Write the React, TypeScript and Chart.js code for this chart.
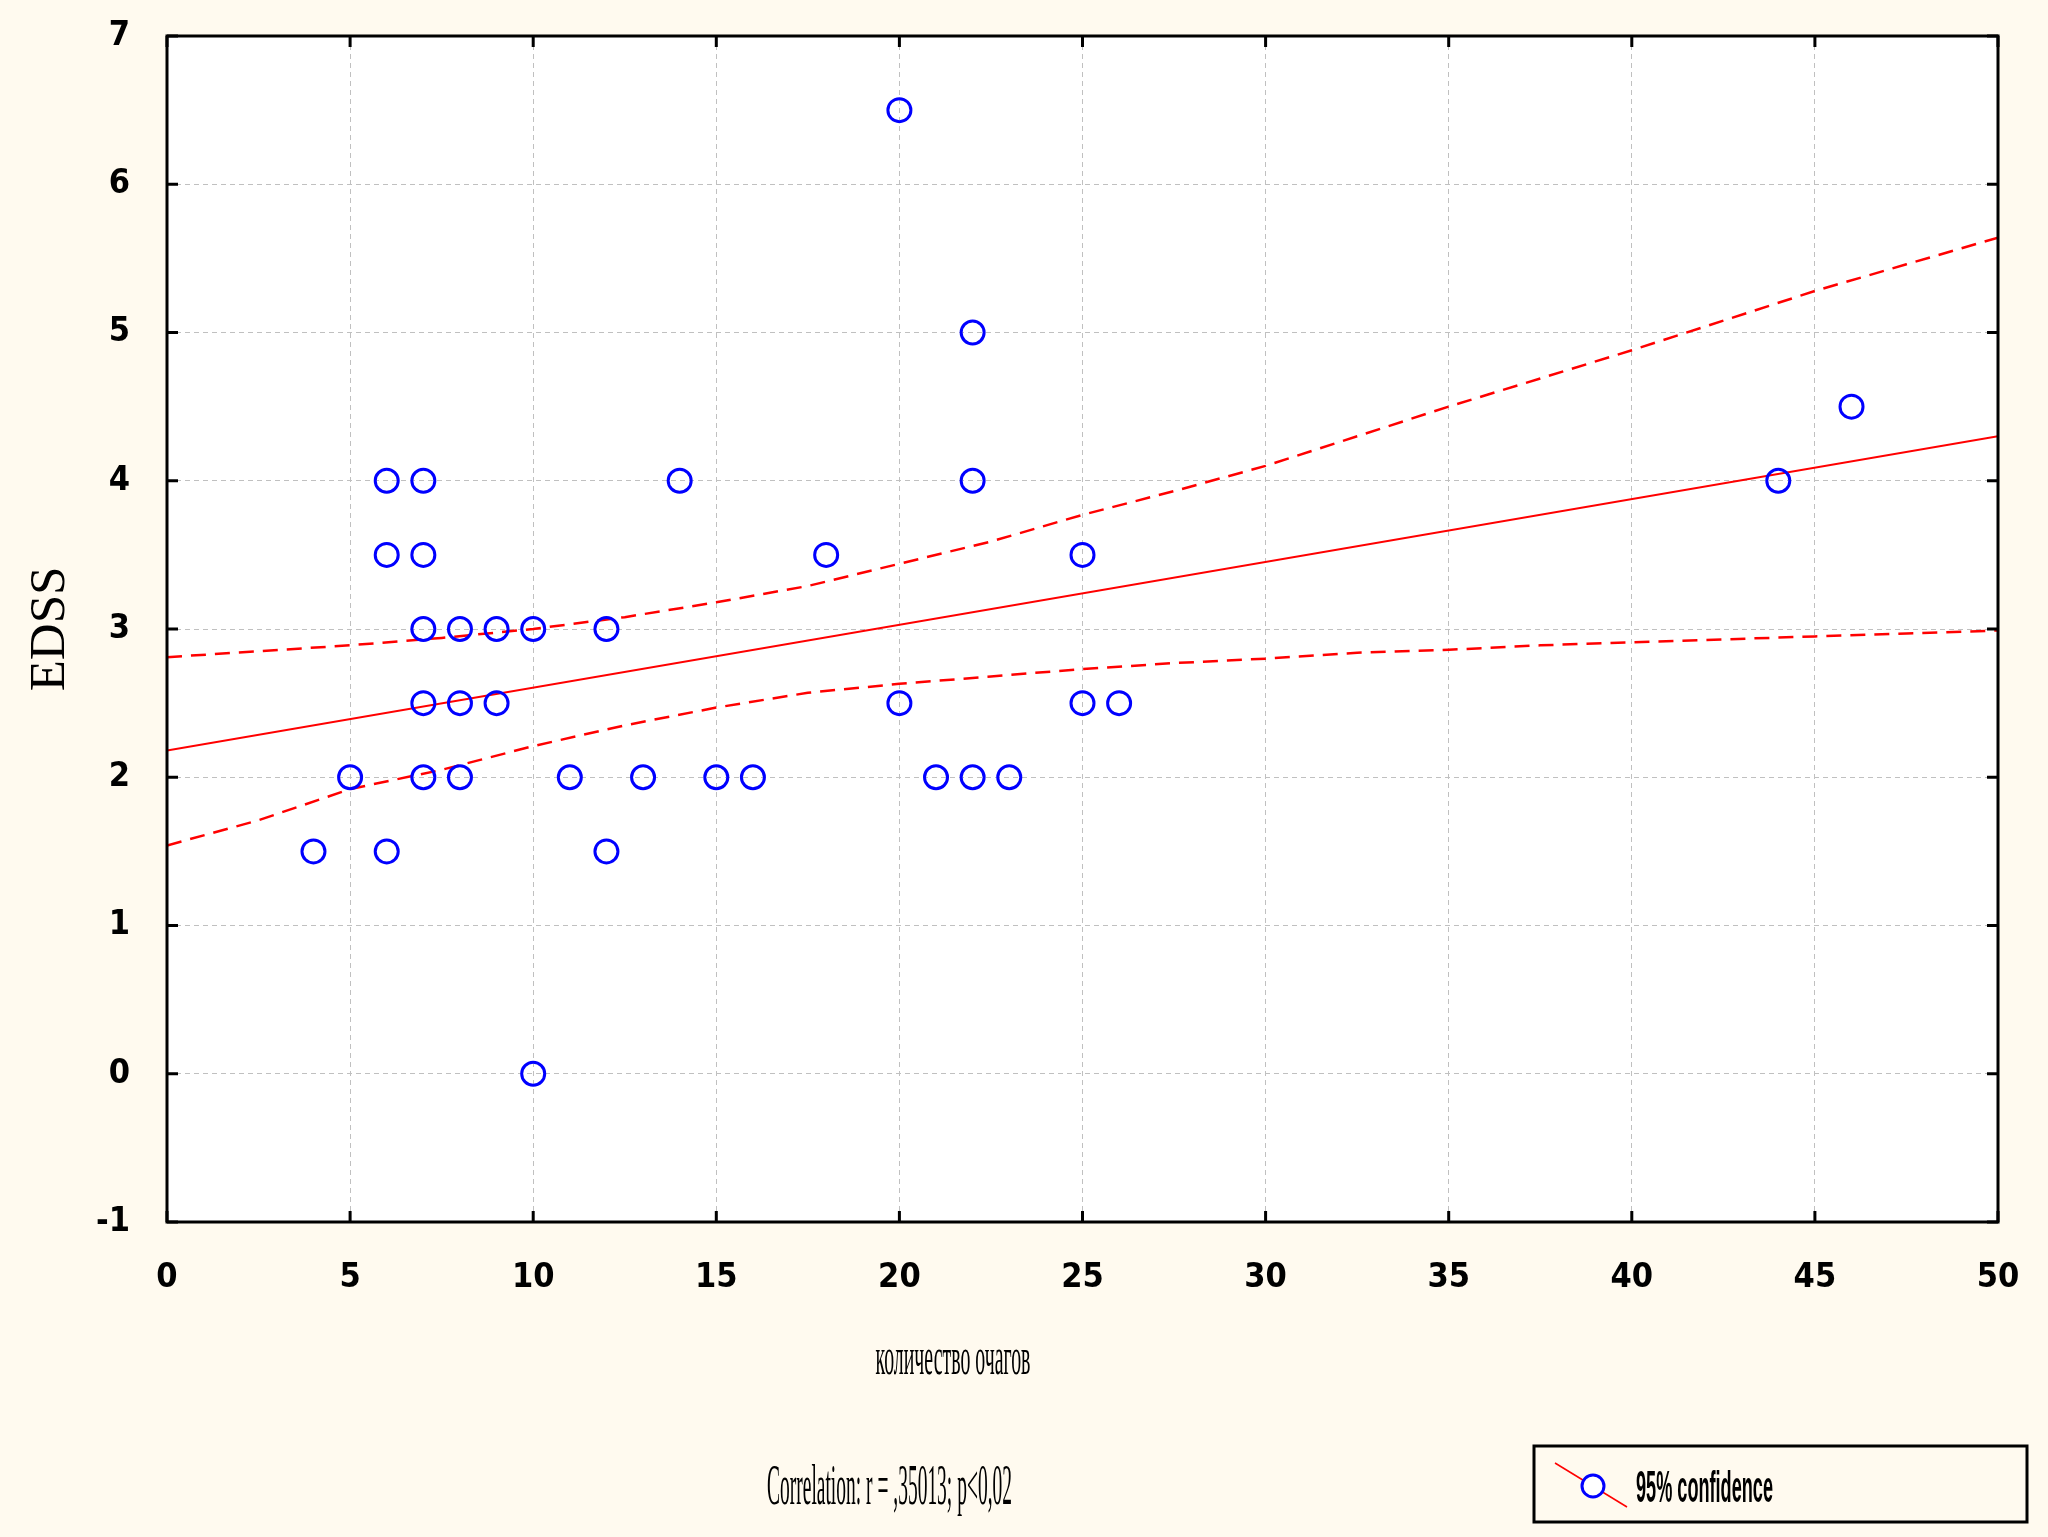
import React, { useEffect, useRef } from "react";
import { Chart, registerables } from "chart.js";

Chart.register(...registerables);

// Observed points: number of lesions (x) vs EDSS (y)
const pointX = [4, 5, 6, 6, 6, 7, 7, 7, 7, 7, 8, 8, 8, 9, 9, 10, 10, 11, 12, 12, 13, 14, 15, 16, 18, 20, 20, 21, 22, 22, 22, 23, 25, 25, 26, 44, 46];
const pointY = [1.5, 2, 4, 3.5, 1.5, 4, 3.5, 3, 2.5, 2, 3, 2.5, 2, 3, 2.5, 3, 0, 2, 3, 1.5, 2, 4, 2, 2, 3.5, 6.5, 2.5, 2, 5, 4, 2, 2, 3.5, 2.5, 2.5, 4, 4.5];

// Regression line
const fitX = [0, 50];
const fitY = [2.18, 4.3];

// 95% confidence bands
const bandX = [0, 2.5, 5, 7.5, 10, 12.5, 15, 17.5, 20, 22.5, 25, 27.5, 30, 32.5, 35, 37.5, 40, 42.5, 45, 47.5, 50];
const upperY = [2.81, 2.85, 2.89, 2.94, 3.0, 3.08, 3.18, 3.29, 3.44, 3.59, 3.77, 3.93, 4.1, 4.3, 4.5, 4.69, 4.88, 5.08, 5.28, 5.46, 5.64];
const lowerY = [1.54, 1.71, 1.92, 2.05, 2.21, 2.35, 2.47, 2.57, 2.63, 2.68, 2.73, 2.77, 2.8, 2.84, 2.86, 2.89, 2.91, 2.93, 2.95, 2.97, 2.99];

const xMin = 0;
const xMax = 50;
const xStep = 5;
const yMin = -1;
const yMax = 7;
const yStep = 1;

const xTitle = "количество очагов";
const yTitle = "EDSS";
const corrText = "Correlation: r = ,35013; p<0,02";
const legendText = "95% confidence";

const CREAM = "#FFFAEF";
const TICK_FONT = '"Liberation Sans Narrow", "DejaVu Sans Condensed", "Liberation Sans", sans-serif';

function squashText(
  ctx: CanvasRenderingContext2D,
  text: string,
  x: number,
  y: number,
  font: string,
  targetW: number,
  align: "left" | "center"
) {
  ctx.save();
  ctx.font = font;
  const w = ctx.measureText(text).width;
  const s = targetW / w;
  const startX = align === "center" ? x - targetW / 2 : x;
  ctx.translate(startX, y);
  ctx.scale(s, 1);
  ctx.textAlign = "left";
  ctx.textBaseline = "alphabetic";
  ctx.fillStyle = "#000";
  ctx.fillText(text, 0, 0);
  ctx.restore();
}

function zeroPadding(s: any) {
  s.paddingTop = 0;
  s.paddingBottom = 0;
  s.paddingLeft = 0;
  s.paddingRight = 0;
}

const decorPlugin = {
  id: "decor",
  beforeDraw(chart: any) {
    const { ctx, chartArea } = chart;
    ctx.save();
    ctx.fillStyle = CREAM;
    ctx.fillRect(0, 0, chart.width, chart.height);
    ctx.fillStyle = "#FFFFFF";
    ctx.fillRect(chartArea.left, chartArea.top, chartArea.right - chartArea.left, chartArea.bottom - chartArea.top);
    ctx.restore();
  },
  afterDraw(chart: any) {
    const { ctx, chartArea } = chart;
    const { left, top, right, bottom } = chartArea;
    const xs = chart.scales.x;
    const ys = chart.scales.y;
    ctx.save();
    ctx.strokeStyle = "#000";
    ctx.lineWidth = 3;
    ctx.strokeRect(left, top, right - left, bottom - top);
    // inward tick marks
    ctx.lineWidth = 3;
    ctx.beginPath();
    ys.ticks.forEach((t: any) => {
      const py = ys.getPixelForValue(t.value);
      ctx.moveTo(left, py);
      ctx.lineTo(left + 11, py);
      ctx.moveTo(right - 11, py);
      ctx.lineTo(right, py);
    });
    xs.ticks.forEach((t: any) => {
      const px = xs.getPixelForValue(t.value);
      ctx.moveTo(px, bottom);
      ctx.lineTo(px, bottom - 11);
      ctx.moveTo(px, top);
      ctx.lineTo(px, top + 11);
    });
    ctx.stroke();
    ctx.restore();

    // x axis title
    squashText(ctx, xTitle, 953, 1374, '52px "Liberation Serif", serif', 155, "center");
    // correlation text
    squashText(ctx, corrText, 767, 1504, '56px "Liberation Serif", serif', 245, "left");

    // legend box
    ctx.save();
    ctx.fillStyle = CREAM;
    ctx.fillRect(1534, 1446, 493, 76);
    ctx.strokeStyle = "#000";
    ctx.lineWidth = 3;
    ctx.strokeRect(1534, 1446, 493, 76);
    ctx.strokeStyle = "#FF0000";
    ctx.lineWidth = 1.5;
    ctx.beginPath();
    ctx.moveTo(1555, 1463);
    ctx.lineTo(1627, 1507);
    ctx.stroke();
    ctx.fillStyle = "#FFFFFF";
    ctx.strokeStyle = "#0000FF";
    ctx.lineWidth = 3;
    ctx.beginPath();
    ctx.arc(1593, 1486, 11, 0, Math.PI * 2);
    ctx.fill();
    ctx.stroke();
    ctx.restore();
    squashText(ctx, legendText, 1636, 1502, 'bold 44px "Liberation Sans", sans-serif', 137, "left");
  },
};

export default function App() {
  const ref = useRef<HTMLCanvasElement | null>(null);

  useEffect(() => {
    document.body.style.margin = "0";
    document.body.style.background = CREAM;
    const canvas = ref.current;
    if (!canvas) return;

    const pts = pointX.map((x, i) => ({ x, y: pointY[i] }));
    const fit = fitX.map((x, i) => ({ x, y: fitY[i] }));
    const up = bandX.map((x, i) => ({ x, y: upperY[i] }));
    const lo = bandX.map((x, i) => ({ x, y: lowerY[i] }));

    const chart = new Chart(canvas, {
      type: "scatter",
      data: {
        datasets: [
          {
            label: "EDSS",
            data: pts,
            showLine: false,
            pointStyle: "circle",
            pointRadius: 11.5,
            pointHoverRadius: 11.5,
            pointBorderWidth: 3,
            borderColor: "#0000FF",
            backgroundColor: "rgba(0,0,0,0)",
            order: 0,
          },
          {
            label: "Regression",
            data: fit,
            showLine: true,
            pointRadius: 0,
            borderColor: "#FF0000",
            borderWidth: 2,
            fill: false,
            order: 1,
          },
          {
            label: "95% upper",
            data: up,
            showLine: true,
            pointRadius: 0,
            borderColor: "#FF0000",
            borderWidth: 2.5,
            borderDash: [15, 9],
            fill: false,
            order: 2,
          },
          {
            label: "95% lower",
            data: lo,
            showLine: true,
            pointRadius: 0,
            borderColor: "#FF0000",
            borderWidth: 2.5,
            borderDash: [15, 9],
            fill: false,
            order: 3,
          },
        ],
      },
      options: {
        responsive: false,
        animation: false,
        devicePixelRatio: 1,
        layout: { padding: { top: 36, right: 50, left: 0, bottom: 0 } },
        plugins: {
          legend: { display: false },
          tooltip: { enabled: false },
        },
        scales: {
          x: {
            type: "linear",
            min: xMin,
            max: xMax,
            ticks: {
              stepSize: xStep,
              autoSkip: false,
              maxRotation: 0,
              padding: 36,
              color: "#000",
              font: { family: TICK_FONT, size: 34, weight: "bold" },
            },
            grid: { color: "#C0C0C0", lineWidth: 1, drawTicks: false },
            border: { display: false, dash: [5, 4] },
            afterFit: (s: any) => {
              s.height = 315;
              zeroPadding(s);
            },
          },
          y: {
            type: "linear",
            min: yMin,
            max: yMax,
            ticks: {
              stepSize: yStep,
              autoSkip: false,
              padding: 37,
              color: "#000",
              font: { family: TICK_FONT, size: 34, weight: "bold" },
            },
            grid: { color: "#C0C0C0", lineWidth: 1, drawTicks: false },
            border: { display: false, dash: [5, 4] },
            title: {
              display: true,
              text: yTitle,
              color: "#000",
              font: { family: '"Liberation Serif", serif', size: 51, weight: "normal" },
              padding: { top: 20, bottom: 0 },
            },
            afterFit: (s: any) => {
              s.width = 167;
              zeroPadding(s);
            },
          },
        },
      },
      plugins: [decorPlugin],
    });

    return () => chart.destroy();
  }, []);

  return (
    <div style={{ width: 2048, height: 1537, background: CREAM }}>
      <canvas ref={ref} width={2048} height={1537} style={{ display: "block" }} />
    </div>
  );
}
